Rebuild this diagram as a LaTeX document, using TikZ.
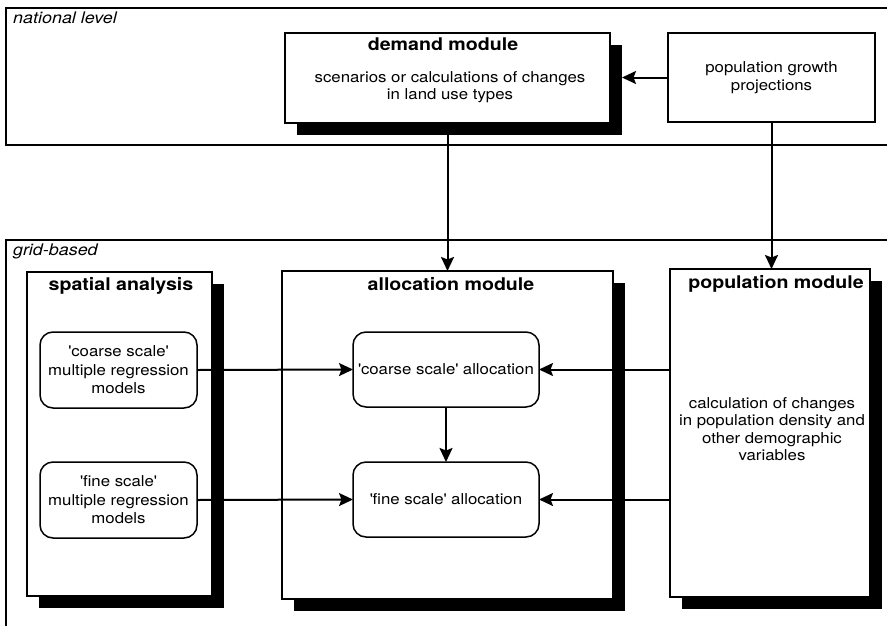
\documentclass[tikz,border=0pt]{standalone}
\usepackage{fontspec}
\setmainfont{TeX Gyre Heros}[FakeStretch=1.12]
\usetikzlibrary{arrows.meta}

\newcommand{\sq}{\textquotesingle}

\tikzset{
  panel/.style={line width=1.9pt},
  module/.style={draw, line width=2.1pt, fill=white, inner sep=0pt, outer sep=0pt},
  shadowbox/.style={fill=black, inner sep=0pt, outer sep=0pt},
  plainbox/.style={draw, line width=1.8pt, fill=white, inner sep=0pt, outer sep=0pt,
                   align=center, font=\fontsize{15}{18}\selectfont},
  roundbox/.style={draw, line width=1.5pt, rounded corners=13pt, fill=white,
                   inner sep=0pt, outer sep=0pt, align=center,
                   font=\fontsize{15}{18.5}\selectfont},
  heading/.style={font=\fontsize{17.5}{20}\selectfont\bfseries, inner sep=0pt},
  bodytext/.style={font=\fontsize{15}{17.5}\selectfont, align=center, inner sep=0pt},
  levellabel/.style={font=\fontsize{16}{19}\selectfont\itshape, anchor=west, inner sep=0pt},
  flow/.style={line width=2pt, -{Stealth[length=14pt, width=13pt, inset=2.5pt]}},
}

\begin{document}
\begin{tikzpicture}[x=1pt, y=-1pt]
  \useasboundingbox (0,0) rectangle (887,625);

  % level panels (open towards the right and bottom edge)
  \draw[panel] (895,8) -- (6,8) -- (6,145) -- (895,145);
  \draw[panel] (895,240) -- (6,240) -- (6,632);
  \node[levellabel] (natlabel) at (13,18) {national level};
  \node[levellabel] (gridlabel) at (13,251) {grid-based};

  % shadows of the module boxes
  \node[shadowbox, minimum width=325pt, minimum height=90pt]  (demandsh)  at (459.5,90)  {};
  \node[shadowbox, minimum width=185pt, minimum height=324pt] (spatialsh) at (131.5,446) {};
  \node[shadowbox, minimum width=331pt, minimum height=328pt] (allocsh)   at (459.5,447) {};
  \node[shadowbox, minimum width=200pt, minimum height=328pt] (popmodsh)  at (782,445)   {};

  % national level
  \node[module, minimum width=325pt, minimum height=90pt] (demand) at (447.5,78) {};
  \node[heading] (demandhead) at (443,44) {demand module};
  \node[bodytext] (demandbody) at (450,87) {scenarios or calculations of changes\\in land use types};

  \node[plainbox, minimum width=207pt, minimum height=89pt] (growth) at (771.5,77.5)
       {population growth\\projections};

  % grid-based modules
  \node[module, minimum width=185pt, minimum height=324pt] (spatial) at (119.5,434) {};
  \node[heading] (spatialhead) at (121,286) {spatial analysis};

  \node[module, minimum width=331pt, minimum height=328pt] (alloc) at (447.5,435) {};
  \node[heading] (allochead) at (451,284) {allocation module};

  \node[module, minimum width=200pt, minimum height=328pt] (popmod) at (770,433) {};
  \node[heading] (popmodhead) at (776,284) {population module};
  \node[bodytext] (popmodbody) at (772,429)
       {calculation of changes\\in population density and\\other demographic\\variables};

  % inner boxes
  \node[roundbox, minimum width=157pt, minimum height=76pt] (creg) at (118.5,370)
       {\sq coarse scale\sq\\multiple regression\\models};
  \node[roundbox, minimum width=157pt, minimum height=76pt] (freg) at (118.5,500)
       {\sq fine scale\sq\\multiple regression\\models};
  \node[roundbox, minimum width=186pt, minimum height=75pt] (calloc) at (446,369.5)
       {\sq coarse scale\sq{} allocation};
  \node[roundbox, minimum width=186pt, minimum height=75pt] (falloc) at (446,499.5)
       {\sq fine scale\sq{} allocation};

  % connectors
  \draw[flow] (growth.west) -- (growth.west -| demandsh.east);
  \draw[flow] (demand.south -| alloc.north) -- (alloc.north);
  \draw[flow] (growth.south) -- (growth.south |- popmod.north);
  \draw[flow] (creg.east) -- (calloc.west);
  \draw[flow] (freg.east) -- (falloc.west);
  \draw[flow] (calloc.east -| popmod.west) -- (calloc.east);
  \draw[flow] (falloc.east -| popmod.west) -- (falloc.east);
  \draw[flow] (calloc.south) -- (falloc.north);
\end{tikzpicture}
\end{document}
